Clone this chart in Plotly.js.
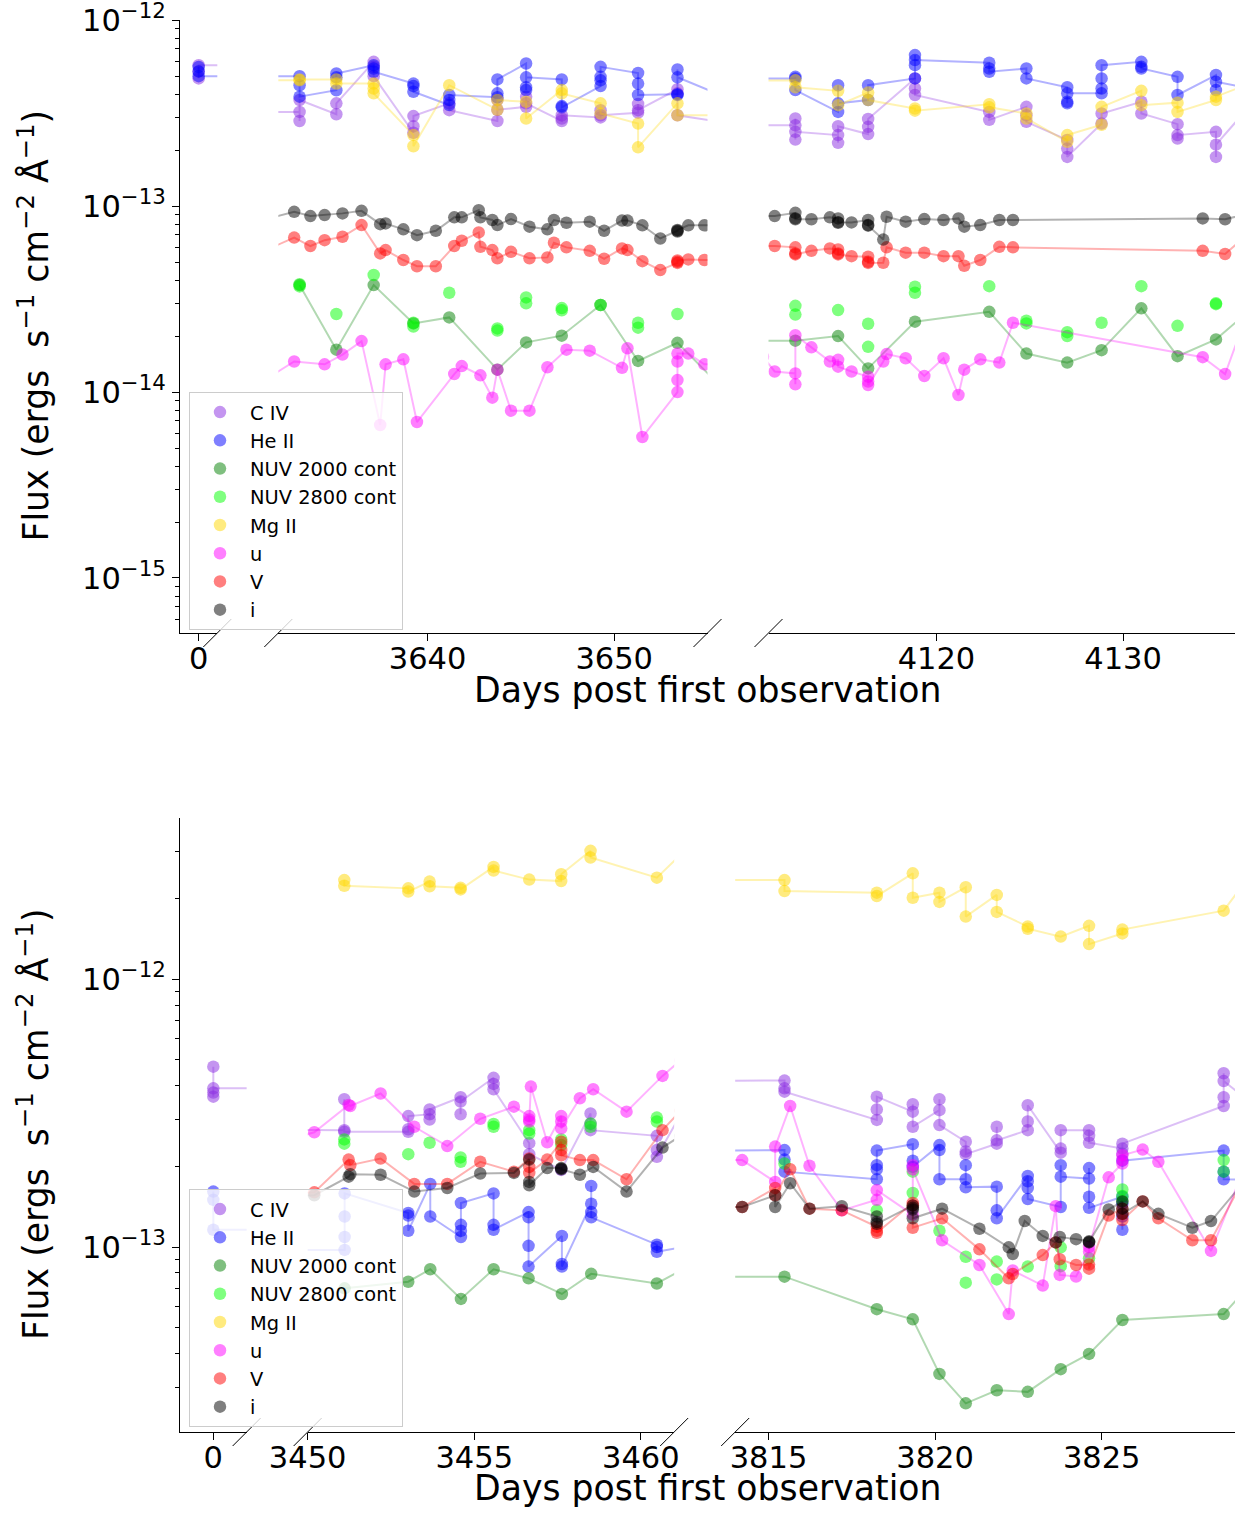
<!DOCTYPE html>
<html><head><meta charset="utf-8">
<script src="https://cdn.plot.ly/plotly-3.0.1.min.js"></script>
<style>html,body{margin:0;padding:0;background:#fff}</style>
</head><body><div id="chart" style="width:1235px;height:1513px"></div>
<script>
// ================= DATA (flux in erg s^-1 cm^-2 A^-1) =================
// ---- Top panel ----
const T_CIV_days = [0, 3633.14, 3635.11, 3637.11, 3639.24, 3641.16, 3643.74, 3645.28, 3647.19, 3649.27, 3651.28, 3653.39, 3655.6, 4112.44, 4114.73, 4116.34, 4118.85, 4122.83, 4124.82, 4127.01, 4128.85, 4130.98, 4132.92, 4134.98, 4136.5];
const T_CIV_flux = [[4.86e-13,5.3e-13,5.73e-13],[3.21e-13,2.87e-13,3.72e-13],[3.12e-13,3.57e-13],[5.97e-13,5.61e-13,5.0e-13],[2.48e-13,2.69e-13,3.05e-13],[3.57e-13,3.28e-13],[2.87e-13,3.72e-13,3.30e-13],[3.42e-13,3.88e-13,3.57e-13],[2.87e-13,2.96e-13,3.08e-13],[3.0e-13,3.28e-13,3.08e-13],[3.18e-13,3.54e-13,3.28e-13],[4.25e-13,4.04e-13,3.08e-13],[2.85e-13],[2.72e-13,2.96e-13,2.28e-13,2.51e-13],[2.41e-13,2.19e-13,2.69e-13],[2.44e-13,2.67e-13,2.94e-13],[4.86e-13,4.29e-13,3.96e-13],[3.21e-13,2.91e-13],[3.42e-13,3.08e-13,2.84e-13],[2.27e-13,2.04e-13,1.84e-13],[2.78e-13,3.15e-13],[3.64e-13,3.15e-13],[2.76e-13,2.31e-13,2.41e-13],[2.51e-13,1.84e-13,2.14e-13],[3.2e-13]];

const T_HeII_days = [0, 3633.14, 3635.11, 3637.11, 3639.24, 3641.16, 3643.74, 3645.28, 3647.19, 3649.27, 3651.28, 3653.39, 3655.6, 4112.44, 4114.73, 4116.34, 4118.85, 4122.83, 4124.82, 4127.01, 4128.85, 4130.98, 4132.92, 4134.98, 4136.5];
const T_HeII_flux = [[5.6e-13,5.3e-13,5.0e-13],[5.0e-13,4.47e-13,3.88e-13],[4.2e-13,4.93e-13,5.17e-13],[5.73e-13,5.5e-13,5.28e-13],[4.56e-13,4.42e-13,4.12e-13],[3.5e-13,3.72e-13,3.96e-13],[3.85e-13,4.04e-13,4.8e-13],[5.85e-13,4.36e-13,4.21e-13,4.93e-13],[4.8e-13,3.45e-13,3.4e-13],[4.42e-13,4.75e-13,4.96e-13,5.61e-13],[5.2e-13,4.56e-13,3.96e-13],[4.0e-13,3.96e-13,5.43e-13,4.93e-13],[4.0e-13],[4.86e-13,4.96e-13,4.21e-13],[3.21e-13,4.47e-13,3.57e-13],[3.72e-13,4.47e-13],[4.86e-13,5.73e-13,6.49e-13,6.1e-13],[5.9e-13,5.5e-13,5.28e-13],[5.5e-13,4.86e-13],[4.36e-13,3.57e-13,3.64e-13,4.04e-13],[4.04e-13,4.29e-13,4.86e-13,5.73e-13],[5.97e-13,5.61e-13,5.5e-13],[4.96e-13,3.96e-13],[5.07e-13,4.21e-13,4.66e-13],[4.35e-13]];

const T_N2000_days = [3633.14, 3635.11, 3637.11, 3639.24, 3641.16, 3643.74, 3645.28, 3647.19, 3649.27, 3651.28, 3653.39, 3656.0, 4112.44, 4114.73, 4116.34, 4118.85, 4122.83, 4124.82, 4127.01, 4128.85, 4130.98, 4132.92, 4134.98, 4136.5];
const T_N2000_flux = [3.76e-14,1.69e-14,3.76e-14,2.34e-14,2.52e-14,1.32e-14,1.85e-14,2.01e-14,2.94e-14,1.47e-14,1.84e-14,1.0e-14,1.89e-14,2.0e-14,1.34e-14,2.39e-14,2.70e-14,1.61e-14,1.44e-14,1.68e-14,2.82e-14,1.56e-14,1.92e-14,2.6e-14];

const T_N2800_days = [3633.14, 3635.11, 3637.11, 3639.24, 3641.16, 3643.74, 3645.28, 3647.19, 3649.27, 3651.28, 3653.39, 4112.44, 4114.73, 4116.34, 4118.85, 4122.83, 4124.82, 4127.01, 4128.85, 4130.98, 4132.92, 4134.98];
const T_N2800_flux = [[3.8e-14,3.7e-14],[2.63e-14],[4.26e-14],[2.36e-14,2.25e-14],[3.42e-14],[2.2e-14,2.14e-14],[3.23e-14,3.0e-14],[2.83e-14,2.75e-14],[2.94e-14],[2.36e-14,2.22e-14],[2.63e-14],[2.91e-14,2.61e-14],[2.76e-14],[2.33e-14,1.75e-14],[3.69e-14,3.42e-14],[3.71e-14],[2.42e-14,2.34e-14],[2.1e-14,2.0e-14],[2.36e-14],[3.71e-14],[2.27e-14],[3.0e-14,2.97e-14]];

const T_MgII_days = [3625, 3633.14, 3635.11, 3637.11, 3639.24, 3641.16, 3643.74, 3645.28, 3647.19, 3649.27, 3651.28, 3653.39, 4112.44, 4114.73, 4116.34, 4118.85, 4122.83, 4124.82, 4127.01, 4128.85, 4130.98, 4132.92, 4134.98, 4136.5];
const T_MgII_flux = [[4.75e-13],[4.75e-13,4.8e-13],[4.8e-13,4.56e-13],[4.56e-13,4.29e-13,4.04e-13],[2.41e-13,2.10e-13],[4.47e-13],[3.30e-13,3.72e-13],[3.64e-13,2.96e-13],[4.21e-13,4.04e-13],[3.57e-13,3.15e-13],[2.78e-13,2.07e-13],[3.57e-13,3.08e-13],[4.75e-13,4.36e-13],[4.17e-13,3.49e-13],[4.08e-13,3.72e-13],[3.35e-13,3.26e-13],[3.53e-13,3.40e-13],[3.15e-13,2.96e-13],[2.22e-13,2.41e-13],[2.74e-13,3.42e-13],[4.17e-13,3.49e-13],[3.6e-13,3.21e-13],[3.72e-13,3.88e-13],[4.45e-13]];

const T_u_days = [3631.5, 3632.85, 3634.48, 3635.44, 3636.46, 3637.46, 3637.75, 3638.70, 3639.43, 3641.43, 3641.83, 3642.83, 3643.47, 3643.74, 3644.47, 3645.46, 3646.42, 3647.44, 3648.69, 3650.42, 3650.71, 3651.51, 3653.39, 3653.97, 3654.83, 4110.7, 4111.33, 4112.44, 4113.30, 4114.29, 4114.73, 4115.45, 4116.34, 4117.15, 4117.33, 4118.35, 4119.35, 4120.38, 4121.18, 4121.49, 4122.35, 4123.37, 4124.10, 4134.27, 4135.47, 4136.5];
const T_u_flux = [[1.2e-14],[1.46e-14],[1.41e-14],[1.59e-14],[1.88e-14],[6.65e-15],[1.41e-14],[1.5e-14],[6.9e-15],[1.25e-14],[1.38e-14],[1.23e-14],[9.33e-15],[1.32e-14],[7.94e-15],[7.94e-15],[1.36e-14],[1.69e-14],[1.67e-14],[1.35e-14],[1.72e-14],[5.73e-15],[1.0e-14,1.16e-14,1.46e-14,1.61e-14],[1.61e-14],[1.41e-14],[1.55e-14],[1.29e-14],[1.26e-14,1.10e-14,2.02e-14],[1.74e-14],[1.46e-14],[1.49e-14,1.37e-14],[1.29e-14],[1.21e-14,1.14e-14,1.09e-14],[1.46e-14],[1.60e-14],[1.52e-14],[1.22e-14],[1.52e-14],[9.64e-15],[1.32e-14],[1.5e-14],[1.44e-14],[2.36e-14],[1.54e-14],[1.25e-14],[2.4e-14]];

const T_V_days = [3631.5, 3632.85, 3633.72, 3634.48, 3635.44, 3636.46, 3637.46, 3637.75, 3638.70, 3639.43, 3640.44, 3641.43, 3641.83, 3642.74, 3642.83, 3643.47, 3643.74, 3644.47, 3645.46, 3646.42, 3646.77, 3647.44, 3648.69, 3649.46, 3650.42, 3650.71, 3651.51, 3652.47, 3653.39, 3653.97, 3654.83, 4111.33, 4112.44, 4113.30, 4114.29, 4114.73, 4115.45, 4116.34, 4117.15, 4117.33, 4118.35, 4119.35, 4120.38, 4121.18, 4121.49, 4122.35, 4123.37, 4124.10, 4134.27, 4135.47, 4136.5];
const T_V_flux = [[5.9e-14],[6.77e-14],[6.10e-14],[6.56e-14],[6.84e-14],[7.91e-14],[5.57e-14],[5.80e-14],[5.13e-14],[4.75e-14],[4.75e-14],[6.10e-14],[6.51e-14],[7.22e-14],[6.04e-14],[5.80e-14],[5.24e-14],[5.68e-14],[5.24e-14],[5.30e-14],[6.35e-14],[6.00e-14],[5.75e-14],[5.21e-14],[5.92e-14],[5.80e-14],[5.06e-14],[4.53e-14],[4.95e-14,5.02e-14,5.1e-14],[5.17e-14],[5.13e-14],[6.1e-14],[6.0e-14,5.57e-14,5.5e-14],[5.75e-14],[5.92e-14],[5.85e-14,5.57e-14,5.5e-14],[5.38e-14],[5.35e-14,5.02e-14,4.95e-14],[4.96e-14],[6.0e-14],[5.62e-14],[5.62e-14],[5.38e-14],[5.38e-14],[4.78e-14],[5.13e-14],[6.04e-14],[6.0e-14],[5.75e-14],[5.53e-14],[6.8e-14]];

const T_i_days = [3631.5, 3632.85, 3633.72, 3634.48, 3635.44, 3636.46, 3637.46, 3637.75, 3638.70, 3639.43, 3640.44, 3641.43, 3641.83, 3642.74, 3642.83, 3643.47, 3643.74, 3644.47, 3645.46, 3646.42, 3646.77, 3647.44, 3648.69, 3649.46, 3650.42, 3650.71, 3651.51, 3652.47, 3653.39, 3653.97, 3654.83, 4111.33, 4112.44, 4113.30, 4114.29, 4114.73, 4115.45, 4116.34, 4117.15, 4117.33, 4118.35, 4119.35, 4120.38, 4121.18, 4121.49, 4122.35, 4123.37, 4124.10, 4134.27, 4135.47, 4136.5];
const T_i_flux = [[8.6e-14],[9.32e-14],[8.84e-14],[8.95e-14],[9.14e-14],[9.43e-14],[8.0e-14],[8.07e-14],[7.5e-14],[6.98e-14],[7.37e-14],[8.7e-14],[8.7e-14],[9.51e-14],[8.7e-14],[8.42e-14],[7.91e-14],[8.52e-14],[7.75e-14],[7.5e-14],[8.42e-14],[8.14e-14],[8.25e-14],[7.37e-14],[8.36e-14],[8.36e-14],[7.88e-14],[6.7e-14],[7.3e-14,7.37e-14,7.45e-14],[7.88e-14],[7.88e-14],[8.84e-14],[9.2e-14,8.59e-14,8.5e-14],[8.5e-14],[8.7e-14],[8.59e-14,8.14e-14,8.2e-14],[8.17e-14],[8.42e-14,7.91e-14,7.85e-14],[6.61e-14],[8.77e-14],[8.25e-14],[8.52e-14],[8.42e-14],[8.59e-14],[7.75e-14],[7.91e-14],[8.42e-14],[8.42e-14],[8.59e-14],[8.5e-14],[9.0e-14]];

// ---- Bottom panel ----
const B_CIV_days = [0, 3451.10, 3453.02, 3453.66, 3454.59, 3455.58, 3456.65, 3457.61, 3458.49, 3460.48, 3461.3, 3815.48, 3818.25, 3819.33, 3820.13, 3820.92, 3821.85, 3822.78, 3823.77, 3824.62, 3825.62, 3828.66, 3829.3];
const B_CIV_flux = [[4.71e-13,3.64e-13,3.77e-13,3.91e-13],[2.73e-13,3.56e-13,2.69e-13],[2.69e-13,2.75e-13,3.08e-13],[3.13e-13,2.99e-13,3.26e-13],[3.62e-13,3.13e-13,3.49e-13],[4.28e-13,4.06e-13,3.88e-13],[2.44e-13,2.22e-13],[1.94e-13],[3.15e-13,2.88e-13,2.73e-13],[2.60e-13,2.30e-13,2.17e-13],[3.3e-13],[4.18e-13,3.91e-13,3.80e-13],[2.98e-13,3.26e-13,3.64e-13],[3.20e-13,3.41e-13,2.81e-13],[3.24e-13,3.56e-13,2.85e-13],[2.47e-13,2.27e-13,2.22e-13],[2.43e-13,2.81e-13,2.50e-13],[2.73e-13,2.94e-13,3.38e-13],[2.25e-13,2.33e-13,2.73e-13],[2.73e-13,2.60e-13,2.45e-13],[2.33e-13,2.23e-13,2.43e-13],[3.36e-13,3.62e-13,4.45e-13,4.16e-13],[3.6e-13]];

const B_HeII_days = [0, 3451.11, 3453.02, 3453.68, 3454.60, 3455.58, 3456.63, 3457.63, 3458.51, 3460.48, 3461.3, 3815.48, 3818.25, 3819.33, 3820.13, 3820.92, 3821.85, 3822.78, 3823.77, 3824.62, 3825.62, 3828.66, 3829.3];
const B_HeII_flux = [[1.61e-13,1.50e-13,1.16e-13],[9.75e-14,1.09e-13,1.30e-13,1.585e-13],[1.34e-13,1.31e-13,1.15e-13],[1.72e-13,1.30e-13],[1.09e-13,1.15e-13,1.21e-13,1.46e-13],[1.585e-13,1.21e-13,1.16e-13],[1.35e-13,1.29e-13,1.01e-13,8.45e-14],[1.10e-13,8.64e-14,8.45e-14],[1.45e-13,1.69e-13,1.35e-13,1.29e-13],[1.02e-13,1.0e-13,9.6e-14],[1.0e-13],[2.30e-13,2.12e-13,1.91e-13],[1.79e-13,1.95e-13,2.02e-13,2.29e-13],[2.42e-13,2.10e-13,1.99e-13],[2.40e-13,2.30e-13,1.79e-13],[1.79e-13,2.02e-13,1.67e-13],[1.68e-13,1.37e-13,1.28e-13],[1.84e-13,1.76e-13,1.66e-13,1.51e-13],[1.41e-13,2.02e-13,1.83e-13],[1.80e-13,1.97e-13,1.54e-13,1.40e-13],[1.54e-13,1.45e-13,1.30e-13,1.16e-13,2.10e-13],[2.29e-13,1.91e-13,1.79e-13],[1.78e-13]];

const B_N2000_days = [3451.11, 3453.02, 3453.68, 3454.60, 3455.58, 3456.63, 3457.63, 3458.51, 3460.48, 3461.3, 3815.48, 3818.25, 3819.33, 3820.13, 3820.92, 3821.85, 3822.78, 3823.77, 3824.62, 3825.62, 3828.66, 3829.3];
const B_N2000_flux = [7.01e-14,7.42e-14,8.26e-14,6.40e-14,8.26e-14,7.64e-14,6.68e-14,7.94e-14,7.31e-14,8.3e-14,7.75e-14,5.86e-14,5.37e-14,3.36e-14,2.61e-14,2.92e-14,2.88e-14,3.50e-14,3.99e-14,5.34e-14,5.62e-14,6.9e-14];

const B_N2800_days = [3451.10, 3453.02, 3453.66, 3454.59, 3455.58, 3456.65, 3457.61, 3458.49, 3460.48, 3815.48, 3818.25, 3819.33, 3820.13, 3820.92, 3821.85, 3822.78, 3823.77, 3824.62, 3825.62, 3828.66];
const B_N2800_flux = [[2.52e-13,2.43e-13],[2.22e-13],[2.45e-13],[2.16e-13,2.08e-13],[2.88e-13,2.81e-13],[2.73e-13,2.65e-13],[2.52e-13,2.40e-13],[2.89e-13,2.81e-13],[3.04e-13,2.94e-13],[2.05e-13],[1.37e-13],[1.91e-13,1.59e-13],[1.15e-13],[9.2e-14,7.36e-14],[8.82e-14,7.57e-14],[8.45e-14],[9.97e-14,8.48e-14],[9.07e-14],[1.64e-13,1.55e-13,1.49e-13],[2.11e-13,1.91e-13]];

const B_MgII_days = [3451.10, 3453.02, 3453.66, 3454.59, 3455.58, 3456.65, 3457.61, 3458.49, 3460.48, 3461.3, 3815.48, 3818.25, 3819.33, 3820.13, 3820.92, 3821.85, 3822.78, 3823.77, 3824.62, 3825.62, 3828.66, 3829.3];
const B_MgII_flux = [[2.34e-12,2.23e-12],[2.18e-12,2.12e-12],[2.31e-12,2.22e-12],[2.19e-12,2.16e-12],[2.62e-12,2.54e-12],[2.35e-12],[2.32e-12,2.46e-12],[3.01e-12,2.84e-12],[2.39e-12],[3.0e-12],[2.34e-12,2.13e-12],[2.10e-12,2.04e-12],[2.48e-12,2.01e-12],[2.10e-12,1.94e-12],[2.20e-12,1.71e-12],[2.06e-12,1.78e-12],[1.57e-12,1.54e-12],[1.44e-12],[1.58e-12,1.35e-12],[1.48e-12,1.53e-12],[1.80e-12],[2.3e-12]];

const B_u_days = [3449.6, 3450.20, 3451.23, 3451.28, 3452.19, 3453.20, 3454.19, 3455.18, 3456.19, 3456.65, 3456.70, 3457.19, 3457.61, 3458.17, 3458.57, 3459.57, 3460.65, 3461.2, 3814.21, 3815.20, 3815.65, 3816.23, 3817.20, 3818.25, 3819.33, 3820.21, 3821.33, 3822.21, 3822.33, 3823.23, 3823.62, 3823.74, 3824.23, 3824.62, 3825.21, 3825.62, 3826.23, 3826.70, 3828.28, 3829.3];
const B_u_flux = [[2.55e-13],[2.68e-13],[3.39e-13],[3.36e-13],[3.74e-13],[2.81e-13],[2.38e-13],[3.01e-13],[3.34e-13],[3.08e-13,2.99e-13,2.94e-13],[3.97e-13],[2.46e-13],[3.08e-13,2.94e-13,2.77e-13],[3.59e-13],[3.88e-13],[3.20e-13],[4.35e-13],[4.98e-13],[2.11e-13],[1.75e-13,2.37e-13],[3.36e-13],[2.01e-13],[1.37e-13],[1.50e-13,1.63e-13],[1.32e-13,2.02e-13,1.95e-13],[1.06e-13],[8.57e-14],[5.62e-14],[8.17e-14],[7.18e-14],[1.42e-13],[7.87e-14],[7.76e-14],[9.6e-14,1.0e-13],[1.82e-13],[2.05e-13,2.11e-13,2.20e-13],[2.31e-13],[2.08e-13],[9.67e-14],[2.0e-13]];

const B_V_days = [3449.6, 3450.20, 3451.23, 3451.28, 3452.19, 3453.20, 3454.19, 3455.18, 3456.19, 3456.65, 3457.19, 3457.61, 3458.17, 3458.57, 3459.57, 3460.65, 3461.2, 3814.21, 3815.20, 3815.65, 3816.23, 3817.20, 3818.25, 3819.33, 3820.21, 3821.33, 3822.21, 3822.33, 3823.23, 3823.62, 3823.74, 3824.23, 3824.62, 3825.21, 3825.62, 3826.23, 3826.70, 3827.72, 3828.28, 3829.3];
const B_V_flux = [[1.58e-13],[1.60e-13],[2.12e-13],[2.02e-13],[2.14e-13],[1.72e-13],[1.72e-13],[2.08e-13],[1.91e-13],[2.14e-13,1.99e-13,1.89e-13],[2.12e-13],[2.47e-13,2.30e-13,2.20e-13],[2.11e-13],[2.11e-13],[1.79e-13],[2.73e-13],[3.23e-13],[1.41e-13],[1.66e-13,1.56e-13],[1.95e-13],[1.39e-13],[1.37e-13],[1.19e-13,1.15e-13,1.13e-13],[1.46e-13,1.43e-13,1.18e-13],[1.28e-13],[9.8e-14],[7.64e-14],[7.93e-14],[9.33e-14],[1.04e-13],[9.0e-14],[8.57e-14],[8.6e-14,8.3e-14],[1.31e-13],[1.39e-13,1.33e-13,1.26e-13],[1.48e-13],[1.28e-13],[1.06e-13],[1.06e-13],[1.83e-13]];

const B_i_days = [3449.6, 3450.20, 3451.23, 3451.28, 3452.19, 3453.20, 3454.19, 3455.18, 3456.19, 3456.65, 3457.19, 3457.61, 3458.17, 3458.57, 3459.57, 3460.65, 3461.2, 3814.21, 3815.20, 3815.65, 3816.23, 3817.20, 3818.25, 3819.33, 3820.21, 3821.33, 3822.21, 3822.33, 3822.69, 3823.23, 3823.62, 3823.74, 3824.23, 3824.62, 3825.21, 3825.62, 3826.23, 3826.70, 3827.72, 3828.28, 3829.3];
const B_i_flux = [[1.55e-13],[1.56e-13],[1.83e-13],[1.87e-13],[1.86e-13],[1.61e-13],[1.66e-13],[1.88e-13],[1.89e-13],[2.12e-13,1.75e-13,1.70e-13],[1.97e-13],[1.97e-13,1.96e-13,1.95e-13],[1.86e-13],[1.99e-13],[1.61e-13],[2.35e-13],[2.6e-13],[1.41e-13],[1.56e-13,1.41e-13],[1.73e-13],[1.39e-13],[1.42e-13],[1.30e-13,1.24e-13,1.22e-13],[1.43e-13,1.40e-13,1.38e-13,1.28e-13],[1.39e-13],[1.17e-13],[9.97e-14],[9.42e-14],[1.25e-13],[1.10e-13],[1.04e-13],[1.09e-13],[1.07e-13],[1.05e-13,1.04e-13,1.045e-13],[1.38e-13],[1.48e-13,1.39e-13,1.33e-13],[1.48e-13],[1.33e-13],[1.18e-13],[1.25e-13],[1.77e-13]];

// axis segments (days) and tick labels
const TOP_SEGMENTS = [[-1, 1], [3632, 3655], [4111, 4136]];
const BOT_SEGMENTS = [[-1, 1], [3450, 3461], [3814, 3829]];
const TOP_XTICKS = [[0], [3640, 3650], [4120, 4130]];
const BOT_XTICKS = [[0], [3450, 3455, 3460], [3815, 3820, 3825]];
const TOP_YTICKS = [1e-15, 1e-14, 1e-13, 1e-12];
const BOT_YTICKS = [1e-13, 1e-12];
const SERIES_NAMES = ['C IV', 'He II', 'NUV 2000 cont', 'NUV 2800 cont', 'Mg II', 'u', 'V', 'i'];

// ================= BUILD =================
const SERIES_STYLE = [
  {rgb: '138,43,226', line: true},
  {rgb: '0,0,255', line: true},
  {rgb: '0,128,0', line: true},
  {rgb: '0,255,0', line: false},
  {rgb: '255,215,0', line: true},
  {rgb: '255,0,255', line: true},
  {rgb: '255,0,0', line: true},
  {rgb: '0,0,0', line: true}
];
const TOP_DATA = [[T_CIV_days,T_CIV_flux],[T_HeII_days,T_HeII_flux],[T_N2000_days,T_N2000_flux],[T_N2800_days,T_N2800_flux],[T_MgII_days,T_MgII_flux],[T_u_days,T_u_flux],[T_V_days,T_V_flux],[T_i_days,T_i_flux]];
const BOT_DATA = [[B_CIV_days,B_CIV_flux],[B_HeII_days,B_HeII_flux],[B_N2000_days,B_N2000_flux],[B_N2800_days,B_N2800_flux],[B_MgII_days,B_MgII_flux],[B_u_days,B_u_flux],[B_V_days,B_V_flux],[B_i_days,B_i_flux]];

function flatten(days, flux) {
  const x = [], y = [];
  days.forEach((d, j) => {
    const v = flux[j];
    (Array.isArray(v) ? v : [v]).forEach(f => { x.push(d); y.push(f); });
  });
  return {x, y};
}

const W = 1235, H = 1513, ML = 180, MR = 0, MT = 20, MB = 81;
const PW = W - ML - MR, PH = H - MT - MB;
const GAP = 61;
function domains(ranges) {
  const tot = ranges.reduce((s, r) => s + r[1] - r[0], 0);
  const sc = (PW - GAP * (ranges.length - 1)) / tot;
  let x = 0;
  return ranges.map(r => {
    const w = (r[1] - r[0]) * sc;
    const d = [x / PW, Math.min(1, (x + w) / PW)];
    x += w + GAP;
    return d;
  });
}
const pyTop = (H - MB - 633) / PH;      // top panel spine
const pyBotTop = (H - MB - 818) / PH;   // bottom panel upper end
const Y_DOMAINS = [[pyTop, 1], [0, pyBotTop]];
const Y_RANGES = [[Math.log10(5.06e-16), -11.999], [Math.log10(2.04e-14), Math.log10(3.99e-12)]];

const FONT = 'DejaVu Sans, Liberation Sans, sans-serif';
const TICK_SIZE = 30.5, TITLE_SIZE = 34.7, LEGEND_SIZE = 19.4;
const traces = [];
const layout = {
  width: W, height: H,
  margin: {l: ML, r: MR, t: MT, b: MB},
  paper_bgcolor: '#fff', plot_bgcolor: '#fff',
  font: {family: FONT, size: TICK_SIZE, color: '#000'},
  showlegend: true,
  annotations: [], shapes: []
};

const panels = [
  {segs: TOP_SEGMENTS, ticks: TOP_XTICKS, data: TOP_DATA, yt: TOP_YTICKS},
  {segs: BOT_SEGMENTS, ticks: BOT_XTICKS, data: BOT_DATA, yt: BOT_YTICKS}
];

function sup(v) {
  const e = Math.round(Math.log10(v));
  return '10<sup>' + (e < 0 ? '\u2212' + (-e) : e) + '</sup>';
}
function minorVals(r) {
  const out = [];
  for (let d = Math.floor(r[0]) - 1; d <= Math.ceil(r[1]); d++)
    for (let m = 2; m <= 9; m++) {
      const v = m * Math.pow(10, d);
      const lv = Math.log10(v);
      if (lv > r[0] && lv < r[1]) out.push(v);
    }
  return out;
}

panels.forEach((P, p) => {
  const doms = domains(P.segs);
  const yName = p === 0 ? 'y' : 'y2';
  const yKey = p === 0 ? 'yaxis' : 'yaxis2';
  const firstX = p === 0 ? 'x' : 'x4';
  layout[yKey] = {
    type: 'log', domain: Y_DOMAINS[p], range: Y_RANGES[p], anchor: firstX,
    showline: true, linecolor: '#000', linewidth: 1, mirror: false,
    ticks: 'outside', ticklen: 7, tickwidth: 1, tickcolor: '#000',
    tickmode: 'array', tickvals: P.yt, ticktext: P.yt.map(sup),
    tickfont: {family: FONT, size: TICK_SIZE, color: '#000'},
    ticklabeloverflow: 'allow',
    minor: {tickmode: 'array', tickvals: minorVals(Y_RANGES[p]), ticks: 'outside', ticklen: 4, tickwidth: 1, tickcolor: '#000', showgrid: false},
    showgrid: false, zeroline: false, fixedrange: true
  };
  P.segs.forEach((seg, k) => {
    const idx = p * 3 + k + 1;
    const xName = idx === 1 ? 'x' : 'x' + idx;
    const xKey = idx === 1 ? 'xaxis' : 'xaxis' + idx;
    layout[xKey] = {
      domain: doms[k], range: seg, anchor: yName,
      showline: true, linecolor: '#000', linewidth: 1,
      ticks: 'outside', ticklen: 7, tickwidth: 1, tickcolor: '#000',
      tickmode: 'array', tickvals: P.ticks[k], ticktext: P.ticks[k].map(String),
      tickfont: {family: FONT, size: TICK_SIZE, color: '#000'},
      ticklabelstandoff: -9, ticklabeloverflow: 'allow',
      showgrid: false, zeroline: false, fixedrange: true
    };
    P.data.forEach((sd, s) => {
      const st = SERIES_STYLE[s];
      const f = flatten(sd[0], sd[1]);
      if (st.line) {
        traces.push({
          type: 'scatter', mode: 'lines', x: f.x, y: f.y, xaxis: xName, yaxis: yName,
          line: {color: 'rgba(' + st.rgb + ',0.3)', width: 2},
          hoverinfo: 'skip', showlegend: false
        });
      }
      traces.push({
        type: 'scatter', mode: 'markers', x: f.x, y: f.y, xaxis: xName, yaxis: yName,
        name: SERIES_NAMES[s],
        marker: {color: 'rgba(' + st.rgb + ',0.5)', size: 12.5, line: {width: 0}},
        hoverinfo: 'skip', cliponaxis: true,
        showlegend: k === 1, legend: p === 0 ? 'legend' : 'legend2'
      });
    });
    // break marks at interior segment ends
    const ys = p === 0 ? pyTop : 0;
    const dx = 14 / PW, dy = 14 / PH;
    const ends = [];
    if (k > 0) ends.push(doms[k][0]);
    if (k < P.segs.length - 1) ends.push(doms[k][1]);
    ends.forEach(xe => layout.shapes.push({
      type: 'line', xref: 'paper', yref: 'paper',
      x0: xe - dx, y0: ys - dy, x1: xe + dx, y1: ys + dy,
      line: {color: '#000', width: 1}
    }));
  });
  // y title
  layout.annotations.push({
    xref: 'paper', yref: 'paper', x: (33 - ML) / PW, y: (Y_DOMAINS[p][0] + Y_DOMAINS[p][1]) / 2,
    xanchor: 'center', yanchor: 'middle', textangle: -90, showarrow: false,
    text: 'Flux (ergs&nbsp; s<sup>\u22121</sup> cm<sup>\u22122</sup> \u00c5<sup>\u22121</sup>)',
    font: {family: FONT, size: TITLE_SIZE, color: '#000'}
  });
  // x title
  layout.annotations.push({
    xref: 'paper', yref: 'paper', x: (708 - ML) / PW, y: (H - MB - (p === 0 ? 690 : 1488)) / PH,
    xanchor: 'center', yanchor: 'middle', showarrow: false,
    text: 'Days post first observation',
    font: {family: FONT, size: TITLE_SIZE, color: '#000'}
  });
});

const legendStyle = (ypx) => ({
  x: (189 - ML) / PW, y: (H - MB - ypx) / PH, xanchor: 'left', yanchor: 'top',
  bgcolor: 'rgba(255,255,255,0.8)', bordercolor: '#cccccc', borderwidth: 1,
  font: {family: FONT, size: LEGEND_SIZE, color: '#000'},
  itemsizing: 'trace', itemwidth: 50, tracegroupgap: 0, traceorder: 'normal'
});
layout.legend = legendStyle(392);
layout.legend2 = legendStyle(1189);

Plotly.newPlot('chart', traces, layout, {displayModeBar: false, staticPlot: true});
</script>
</body></html>
